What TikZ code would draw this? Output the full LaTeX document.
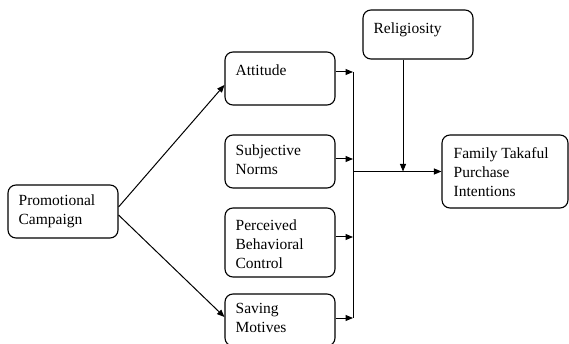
\documentclass[tikz,border=0pt]{standalone}
\usepackage{fontspec}
\setmainfont{Liberation Serif}
\usetikzlibrary{arrows.meta}
\begin{document}
\begin{tikzpicture}[x=1pt,y=-1pt,
  box/.style={draw, rounded corners=8pt, line width=1.1pt, inner sep=0pt},
  txt/.style={font=\fontsize{15.5}{19}\selectfont, align=left, inner sep=0pt, anchor=north west},
  arr/.style={line width=1pt, -{Triangle[length=7.5pt,width=6pt]}},
  ln/.style={line width=1pt}]
\clip (0,0) rectangle (569,344);
\fill[white] (0,0) rectangle (569,344);

\node[box, minimum width=110pt, minimum height=53pt] (promo) at (63,211.5) {};
\node[txt] (promoT) at ([shift={(11pt,-10pt)}]promo.north west) {Promotional\\Campaign};

\node[box, minimum width=110pt, minimum height=53pt] (att) at (280,78.5) {};
\node[txt] (attT) at ([shift={(11pt,-13.5pt)}]att.north west) {Attitude};

\node[box, minimum width=110pt, minimum height=53pt] (sub) at (280,161.5) {};
\node[txt] (subT) at ([shift={(11pt,-10pt)}]sub.north west) {Subjective\\Norms};

\node[box, minimum width=110pt, minimum height=69pt] (perc) at (280,242.5) {};
\node[txt] (percT) at ([shift={(11pt,-12.5pt)}]perc.north west) {Perceived\\Behavioral\\Control};

\node[box, minimum width=110pt, minimum height=52pt] (sav) at (280,320) {};
\node[txt] (savT) at ([shift={(11pt,-10pt)}]sav.north west) {Saving\\Motives};

\node[box, minimum width=110pt, minimum height=49pt] (rel) at (418,34.5) {};
\node[txt] (relT) at ([shift={(11pt,-13pt)}]rel.north west) {Religiosity};

\node[box, minimum width=126pt, minimum height=73pt] (fam) at (505,171.5) {};
\node[txt] (famT) at ([shift={(12pt,-12.5pt)}]fam.north west) {Family Takaful\\Purchase\\Intentions};

% promotional campaign arrows
\draw[arr] ([yshift=4.5pt]promo.east) -- ([yshift=-6.5pt]att.west);
\draw[arr] ([yshift=-3.5pt]promo.east) -- ([yshift=3pt]sav.west);

% bar
\coordinate (bx) at (353,0);
\coordinate (a1) at ([yshift=6.5pt]att.east);
\coordinate (s1) at ([yshift=2.5pt]sub.east);
\coordinate (p1) at ([yshift=5.5pt]perc.east);
\coordinate (v1) at ([yshift=2pt]sav.east);
\draw[arr] (a1) -- (a1 -| bx);
\draw[arr] (s1) -- (s1 -| bx);
\draw[arr] (p1) -- (p1 -| bx);
\draw[arr] (v1) -- (v1 -| bx);
\draw[ln] (a1 -| bx) -- (v1 -| bx);

% main arrow
\draw[arr] (fam.west -| bx) -- (fam.west);

% religiosity
\coordinate (rs) at ([xshift=-15pt]rel.south);
\draw[arr] (rs) -- (rs |- fam.west);
\end{tikzpicture}
\end{document}
